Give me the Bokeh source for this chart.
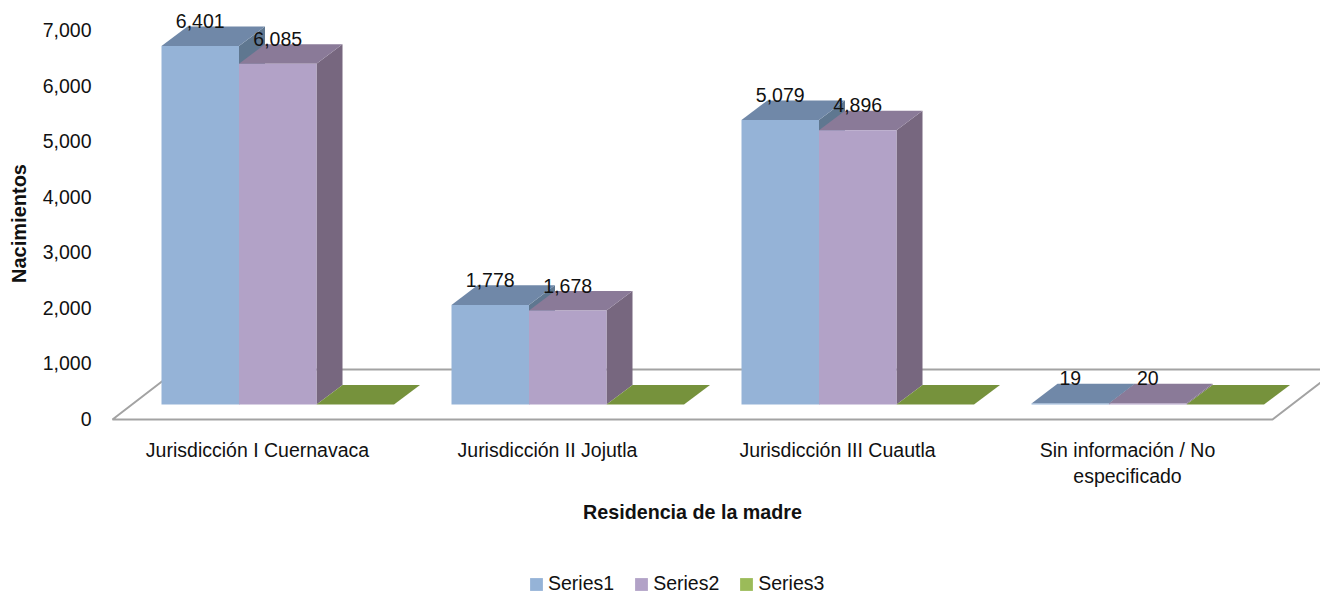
from bokeh.plotting import figure
from bokeh.layouts import column
from bokeh.models import (ColumnDataSource, Range1d, LinearAxis, FixedTicker, Label,
                          Legend, LegendItem, NumeralTickFormatter)
from bokeh.core.properties import value
from bokeh.embed import file_html
from bokeh.resources import INLINE

categories = ["Jurisdicción I Cuernavaca", "Jurisdicción II Jojutla",
              "Jurisdicción III Cuautla", "Sin información / No\nespecificado"]
series_names = ["Series1", "Series2", "Series3"]
series1 = [6401, 1778, 5079, 19]
series2 = [6085, 1678, 4896, 20]
series3 = [0, 0, 0, 0]
y_ticks = [0, 1000, 2000, 3000, 4000, 5000, 6000, 7000]

FONT = "Liberation Sans"
front_colors = ["#95B3D7", "#B2A2C7", "#9BBB59"]
top_colors = ["#7088A8", "#8A7A98", "#76923C"]
side_colors = ["#5F7790", "#77677F", "#667F34"]
label_colors = "#111111"

W, H, STRIP_H = 1320, 495, 98
L, T, B = 95, 8, 438               # plot frame edges on the canvas
X0, CAT_PX = 112, 290              # floor's front-left corner, width of a category
Y0, PX_PER_UNIT = 404, 0.056       # bar base, pixels per unit of value
AX0, AX_PX_PER_UNIT = 418, 0.05543 # the value axis's own scale

GAP_LEFT = (161 - X0) / CAT_PX     # first bar's offset inside a category
BAR_W = 77.5 / CAT_PX
DEPTH_X = 26 / CAT_PX
DEPTH_Y = 19.6 / PX_PER_UNIT
FLOOR_FRONT = (Y0 - 419) / PX_PER_UNIT
FLOOR_BACK = (Y0 - 369) / PX_PER_UNIT
FLOOR_DX = 65 / CAT_PX

p = figure(width=W, height=H, output_backend="svg", toolbar_location=None,
           x_range=Range1d((L - X0) / CAT_PX, (W - X0) / CAT_PX),
           y_range=Range1d((Y0 - B) / PX_PER_UNIT, (Y0 - T) / PX_PER_UNIT),
           min_border_left=L, min_border_right=0, min_border_top=T, min_border_bottom=H - B,
           outline_line_color=None, background_fill_color="white", border_fill_color="white",
           x_axis_location="below", y_axis_location=None)
p.grid.visible = False

# floor of the 3D box
n = len(categories)
p.patch([0, n, n + FLOOR_DX, FLOOR_DX], [FLOOR_FRONT, FLOOR_FRONT, FLOOR_BACK, FLOOR_BACK],
        fill_color="white", line_color="#A3A3A3", line_width=2)

# 3D bars
for s, vals in enumerate([series1, series2, series3]):
    for c, v in enumerate(vals):
        x1 = c + GAP_LEFT + s * BAR_W
        x2 = x1 + BAR_W
        p.patch([x2, x2 + DEPTH_X, x2 + DEPTH_X, x2], [0, DEPTH_Y, v + DEPTH_Y, v],
                fill_color=side_colors[s], line_color=None)
        p.patch([x1, x2, x2 + DEPTH_X, x1 + DEPTH_X], [v, v, v + DEPTH_Y, v + DEPTH_Y],
                fill_color=top_colors[s], line_color=None)
        p.quad(left=x1, right=x2, bottom=0, top=v, fill_color=front_colors[s], line_color=None)

# value labels
lx, ly, lt = [], [], []
for s, vals in enumerate([series1, series2]):
    for c, v in enumerate(vals):
        lx.append(c + GAP_LEFT + (s + 0.5) * BAR_W)
        ly.append(v)
        lt.append(f"{v:,}")
p.text(x="x", y="y", text="t", source=ColumnDataSource(dict(x=lx, y=ly, t=lt)),
       text_font=value(FONT), text_font_size="19.5px", text_color=label_colors,
       text_align="center", text_baseline="middle", y_offset=-25)

# axes
p.extra_y_ranges["ticks"] = Range1d((AX0 - B) / AX_PX_PER_UNIT, (AX0 - T) / AX_PX_PER_UNIT)
yax = LinearAxis(y_range_name="ticks", ticker=FixedTicker(ticks=y_ticks),
                 formatter=NumeralTickFormatter(format="0,0"),
                 axis_label="Nacimientos", axis_label_standoff=10,
                 axis_label_text_font=FONT, axis_label_text_font_size="20px",
                 axis_label_text_font_style="bold", axis_label_text_color="#111111",
                 major_label_text_font=FONT, major_label_text_font_size="19.5px",
                 major_label_text_color=label_colors, major_label_standoff=4,
                 axis_line_color=None, major_tick_line_color=None, minor_tick_line_color=None,
                 major_tick_out=0, major_tick_in=0, minor_tick_out=0, minor_tick_in=0)
p.add_layout(yax, "left")

xax = p.xaxis[0]
xax.ticker = FixedTicker(ticks=[i + 0.5 for i in range(n)])
xax.major_label_overrides = {i + 0.5: c for i, c in enumerate(categories)}
xax.major_label_text_font = FONT
xax.major_label_text_font_size = "19.5px"
xax.major_label_text_color = label_colors
xax.major_label_standoff = 0
xax.axis_line_color = None
xax.major_tick_line_color = None
xax.minor_tick_line_color = None
xax.major_tick_out = 0
xax.major_tick_in = 0
xax.minor_tick_out = 0
xax.minor_tick_in = 0

# strip under the plot: the axis title and an off-centre legend
q = figure(width=W, height=STRIP_H, output_backend="svg", toolbar_location=None,
           x_range=Range1d(L, W), y_range=Range1d(0, STRIP_H),
           x_axis_location=None, y_axis_location=None,
           min_border_left=L, min_border_right=0, min_border_top=0, min_border_bottom=0,
           outline_line_color=None)
q.grid.visible = False
q.add_layout(Label(x=692, y=82, text="Residencia de la madre", text_font=FONT,
                   text_font_size="19.7px", text_font_style="bold", text_color="#111111",
                   text_align="center", text_baseline="middle"))
items = []
for name, col in zip(series_names, front_colors):
    r = q.quad(left=[0], right=[1], bottom=[0], top=[1], fill_color=col, line_color=None)
    items.append(LegendItem(label=name, renderers=[r]))
legend = Legend(items=items, orientation="horizontal", location=(528 - L, -2),
                glyph_width=16, glyph_height=16, label_standoff=4, spacing=19, padding=0, margin=0,
                border_line_color=None, background_fill_alpha=0,
                label_text_font=FONT, label_text_font_size="19.5px", label_text_color=label_colors)
q.add_layout(legend, "center")

page = column(p, q, spacing=0)
page.styles = {"position": "absolute", "left": "0px", "top": "0px"}

open("out.html", "w").write(file_html(page, INLINE))
